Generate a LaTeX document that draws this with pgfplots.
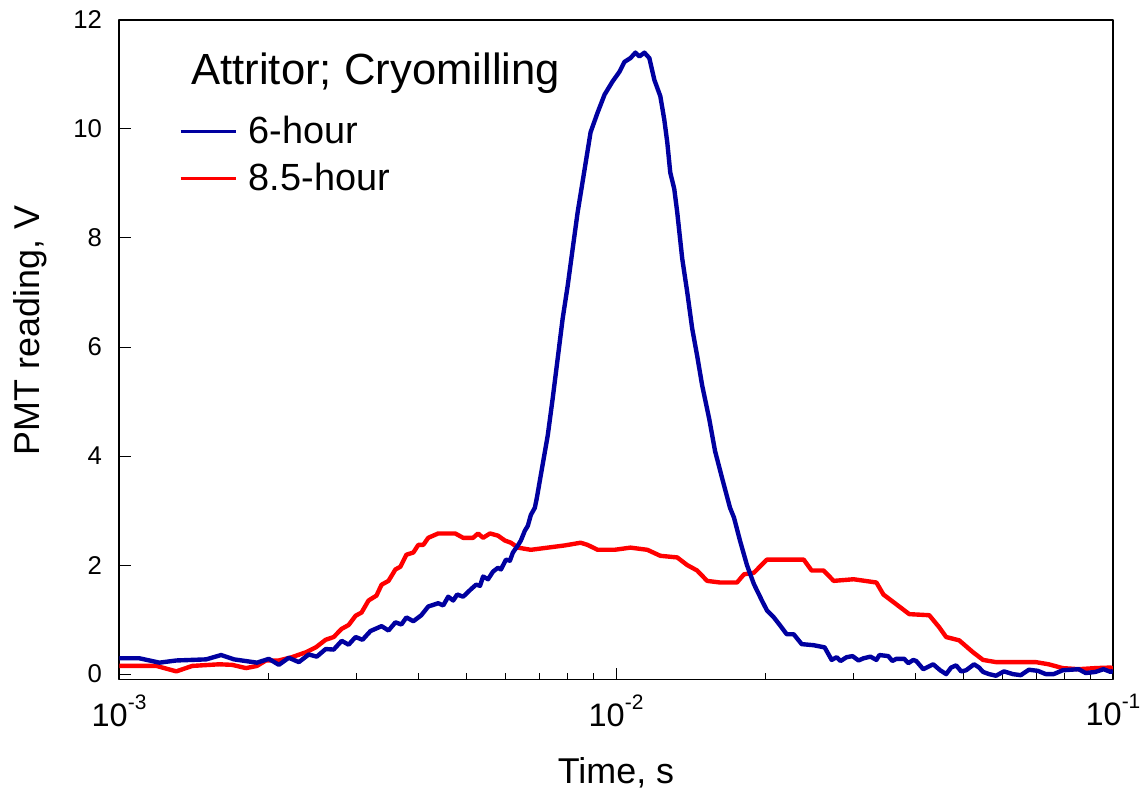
\documentclass[border=0pt]{standalone}
\usepackage{pgfplots}
\pgfplotsset{compat=1.18}
\usepackage{fontspec}
\setmainfont{Liberation Sans}
\definecolor{dblue}{RGB}{0,0,160}
\definecolor{lred}{RGB}{255,0,0}

\pgfplotstableread{
t V
1.002e-3 0.29
1.099e-3 0.29
1.206e-3 0.21
1.304e-3 0.25
1.497e-3 0.27
1.605e-3 0.35
1.704e-3 0.27
1.895e-3 0.21
2.002e-3 0.28
2.097e-3 0.17
2.196e-3 0.30
2.300e-3 0.22
2.409e-3 0.36
2.499e-3 0.32
2.605e-3 0.46
2.703e-3 0.45
2.805e-3 0.61
2.897e-3 0.54
2.992e-3 0.68
3.090e-3 0.63
3.206e-3 0.79
3.375e-3 0.88
3.485e-3 0.80
3.599e-3 0.95
3.700e-3 0.91
3.786e-3 1.04
3.910e-3 0.97
4.057e-3 1.08
4.190e-3 1.24
4.388e-3 1.30
4.491e-3 1.26
4.596e-3 1.42
4.703e-3 1.35
4.791e-3 1.46
4.925e-3 1.42
5.110e-3 1.56
5.229e-3 1.64
5.327e-3 1.62
5.401e-3 1.79
5.527e-3 1.74
5.656e-3 1.88
5.787e-3 1.95
5.868e-3 1.92
6.005e-3 2.10
6.117e-3 2.08
6.202e-3 2.23
6.347e-3 2.36
6.435e-3 2.45
6.555e-3 2.63
6.646e-3 2.72
6.740e-3 2.92
6.865e-3 3.05
6.929e-3 3.23
7.058e-3 3.65
7.289e-3 4.38
7.459e-3 5.06
7.633e-3 5.79
7.811e-3 6.52
7.994e-3 7.12
8.180e-3 7.80
8.371e-3 8.47
8.646e-3 9.26
8.889e-3 9.94
9.182e-3 10.30
9.484e-3 10.63
9.840e-3 10.87
1.0163e-2 11.05
1.0399e-2 11.23
1.0692e-2 11.30
1.0941e-2 11.40
1.1145e-2 11.33
1.1405e-2 11.40
1.1670e-2 11.30
1.1944e-2 10.90
1.2279e-2 10.60
1.2507e-2 10.17
1.2682e-2 9.75
1.2858e-2 9.20
1.3098e-2 8.90
1.3280e-2 8.47
1.3591e-2 7.62
1.3908e-2 7.01
1.4232e-2 6.34
1.4564e-2 5.84
1.4903e-2 5.30
1.5394e-2 4.69
1.5825e-2 4.09
1.6344e-2 3.60
1.6961e-2 3.05
1.7276e-2 2.87
1.7761e-2 2.45
1.8343e-2 2.00
1.8949e-2 1.65
1.9660e-2 1.35
2.0118e-2 1.17
2.0777e-2 1.04
2.1360e-2 0.90
2.2061e-2 0.73
2.2784e-2 0.73
2.3638e-2 0.55
2.4987e-2 0.53
2.629e-2 0.49
2.716e-2 0.26
2.779e-2 0.31
2.831e-2 0.24
2.910e-2 0.31
2.992e-2 0.33
3.076e-2 0.25
3.148e-2 0.29
3.251e-2 0.32
3.342e-2 0.26
3.389e-2 0.35
3.532e-2 0.33
3.598e-2 0.24
3.665e-2 0.28
3.803e-2 0.28
3.874e-2 0.20
3.965e-2 0.26
4.019e-2 0.24
4.152e-2 0.09
4.348e-2 0.18
4.491e-2 0.07
4.616e-2 0.00
4.724e-2 0.12
4.835e-2 0.16
4.948e-2 0.05
5.063e-2 0.07
5.254e-2 0.18
5.377e-2 0.12
5.477e-2 0.04
5.631e-2 0.00
5.816e-2 -0.03
6.034e-2 0.05
6.289e-2 0.00
6.524e-2 -0.02
6.772e-2 0.08
7.058e-2 0.06
7.323e-2 0.00
7.600e-2 0.00
7.920e-2 0.07
8.218e-2 0.08
8.527e-2 0.09
8.809e-2 0.02
9.222e-2 0.04
9.572e-2 0.09
9.886e-2 0.04
1.000e-1 0.06
}\sixhour

\pgfplotstableread{
t V
1.002e-3 0.15
1.189e-3 0.15
1.304e-3 0.05
1.404e-3 0.15
1.590e-3 0.18
1.688e-3 0.17
1.801e-3 0.11
1.895e-3 0.15
1.975e-3 0.25
2.097e-3 0.25
2.227e-3 0.31
2.376e-3 0.40
2.488e-3 0.49
2.605e-3 0.63
2.703e-3 0.68
2.805e-3 0.83
2.897e-3 0.90
2.992e-3 1.07
3.076e-3 1.13
3.177e-3 1.35
3.296e-3 1.44
3.375e-3 1.64
3.485e-3 1.71
3.599e-3 1.92
3.683e-3 1.97
3.786e-3 2.19
3.910e-3 2.23
4.001e-3 2.37
4.095e-3 2.37
4.190e-3 2.50
4.388e-3 2.58
4.747e-3 2.58
4.925e-3 2.50
5.157e-3 2.50
5.277e-3 2.58
5.401e-3 2.50
5.578e-3 2.58
5.787e-3 2.54
5.977e-3 2.45
6.145e-3 2.41
6.347e-3 2.32
6.740e-3 2.28
7.289e-3 2.32
7.884e-3 2.36
8.488e-3 2.41
8.767e-3 2.37
9.182e-3 2.28
9.931e-3 2.28
1.0692e-2 2.32
1.1563e-2 2.28
1.2279e-2 2.17
1.3280e-2 2.14
1.3908e-2 2.00
1.4564e-2 1.90
1.5254e-2 1.71
1.6193e-2 1.68
1.7517e-2 1.68
1.8091e-2 1.83
1.8949e-2 1.86
2.0118e-2 2.10
2.3860e-2 2.10
2.4755e-2 1.90
2.6169e-2 1.90
2.7416e-2 1.71
3.0061e-2 1.74
3.3420e-2 1.68
3.4520e-2 1.46
3.6653e-2 1.28
3.8919e-2 1.10
4.2687e-2 1.08
4.4697e-2 0.86
4.6162e-2 0.68
4.9023e-2 0.62
5.2296e-2 0.40
5.4772e-2 0.26
5.8157e-2 0.22
6.9932e-2 0.22
7.4244e-2 0.18
7.9196e-2 0.11
8.5273e-2 0.09
9.2220e-2 0.11
9.8855e-2 0.12
1.000e-1 0.10
}\eighthour

\begin{document}
\begin{tikzpicture}
\begin{axis}[
  name=ax,
  scale only axis,
  width=498.75pt, height=331pt,
  xmode=log,
  xmin=1e-3, xmax=1e-1,
  ymin=-0.1, ymax=12,
  xtick={1e-3,1e-2,1e-1},
  xticklabels={10\raisebox{8.5pt}{\fontsize{10.5}{12}\selectfont -3},
               10\raisebox{8.5pt}{\fontsize{10.5}{12}\selectfont -2},
               10\raisebox{8.5pt}{\fontsize{10.5}{12}\selectfont -1}},
  ytick={0,2,4,6,8,10,12},
  xtick pos=left, ytick pos=left,
  tick align=inside,
  major tick length=6pt, minor tick length=3.5pt,
  axis line style={line width=0.6pt},
  every tick/.style={black, line width=0.5pt},
  xticklabel style={font=\fontsize{16.3}{19}\selectfont, yshift=-4pt},
  yticklabel style={font=\fontsize{12.9}{15}\selectfont, xshift=-5pt},
  /pgf/number format/assume math mode=true,
  xlabel={Time, s},
  ylabel={PMT reading, V},
  xlabel style={font=\fontsize{18}{21}\selectfont, at={(axis description cs:0.5,-0.157)}, anchor=base},
  ylabel style={font=\fontsize{18}{21}\selectfont, at={(axis description cs:-0.0797,0.529)}, anchor=base},
  legend style={draw=none, fill=none, at={(axis description cs:0.060,0.861)}, anchor=north west,
    font=\fontsize{19}{22}\selectfont, row sep=4.5pt, column sep=3.5pt, inner sep=0pt},
  legend cell align=left,
  legend image code/.code={\draw[#1, line width=1.5pt] (0pt,0pt) -- (28pt,0pt);},
  line join=round,
]
\addlegendimage{dblue}
\addlegendentry{6-hour}
\addlegendimage{lred}
\addlegendentry{8.5-hour}
\addplot[lred, line width=2.2pt, forget plot] table[x=t, y=V] {\eighthour};
\addplot[dblue, line width=2.2pt, forget plot] table[x=t, y=V] {\sixhour};
\node[anchor=base west, font=\fontsize{21.9}{26}\selectfont] at (rel axis cs:0.0657,0.9018) {Attritor; Cryomilling};
\end{axis}
\path ([xshift=-59.75pt, yshift=-57.5pt]ax.south west) rectangle ([xshift=15pt, yshift=10pt]ax.north east);
\end{tikzpicture}
\end{document}
